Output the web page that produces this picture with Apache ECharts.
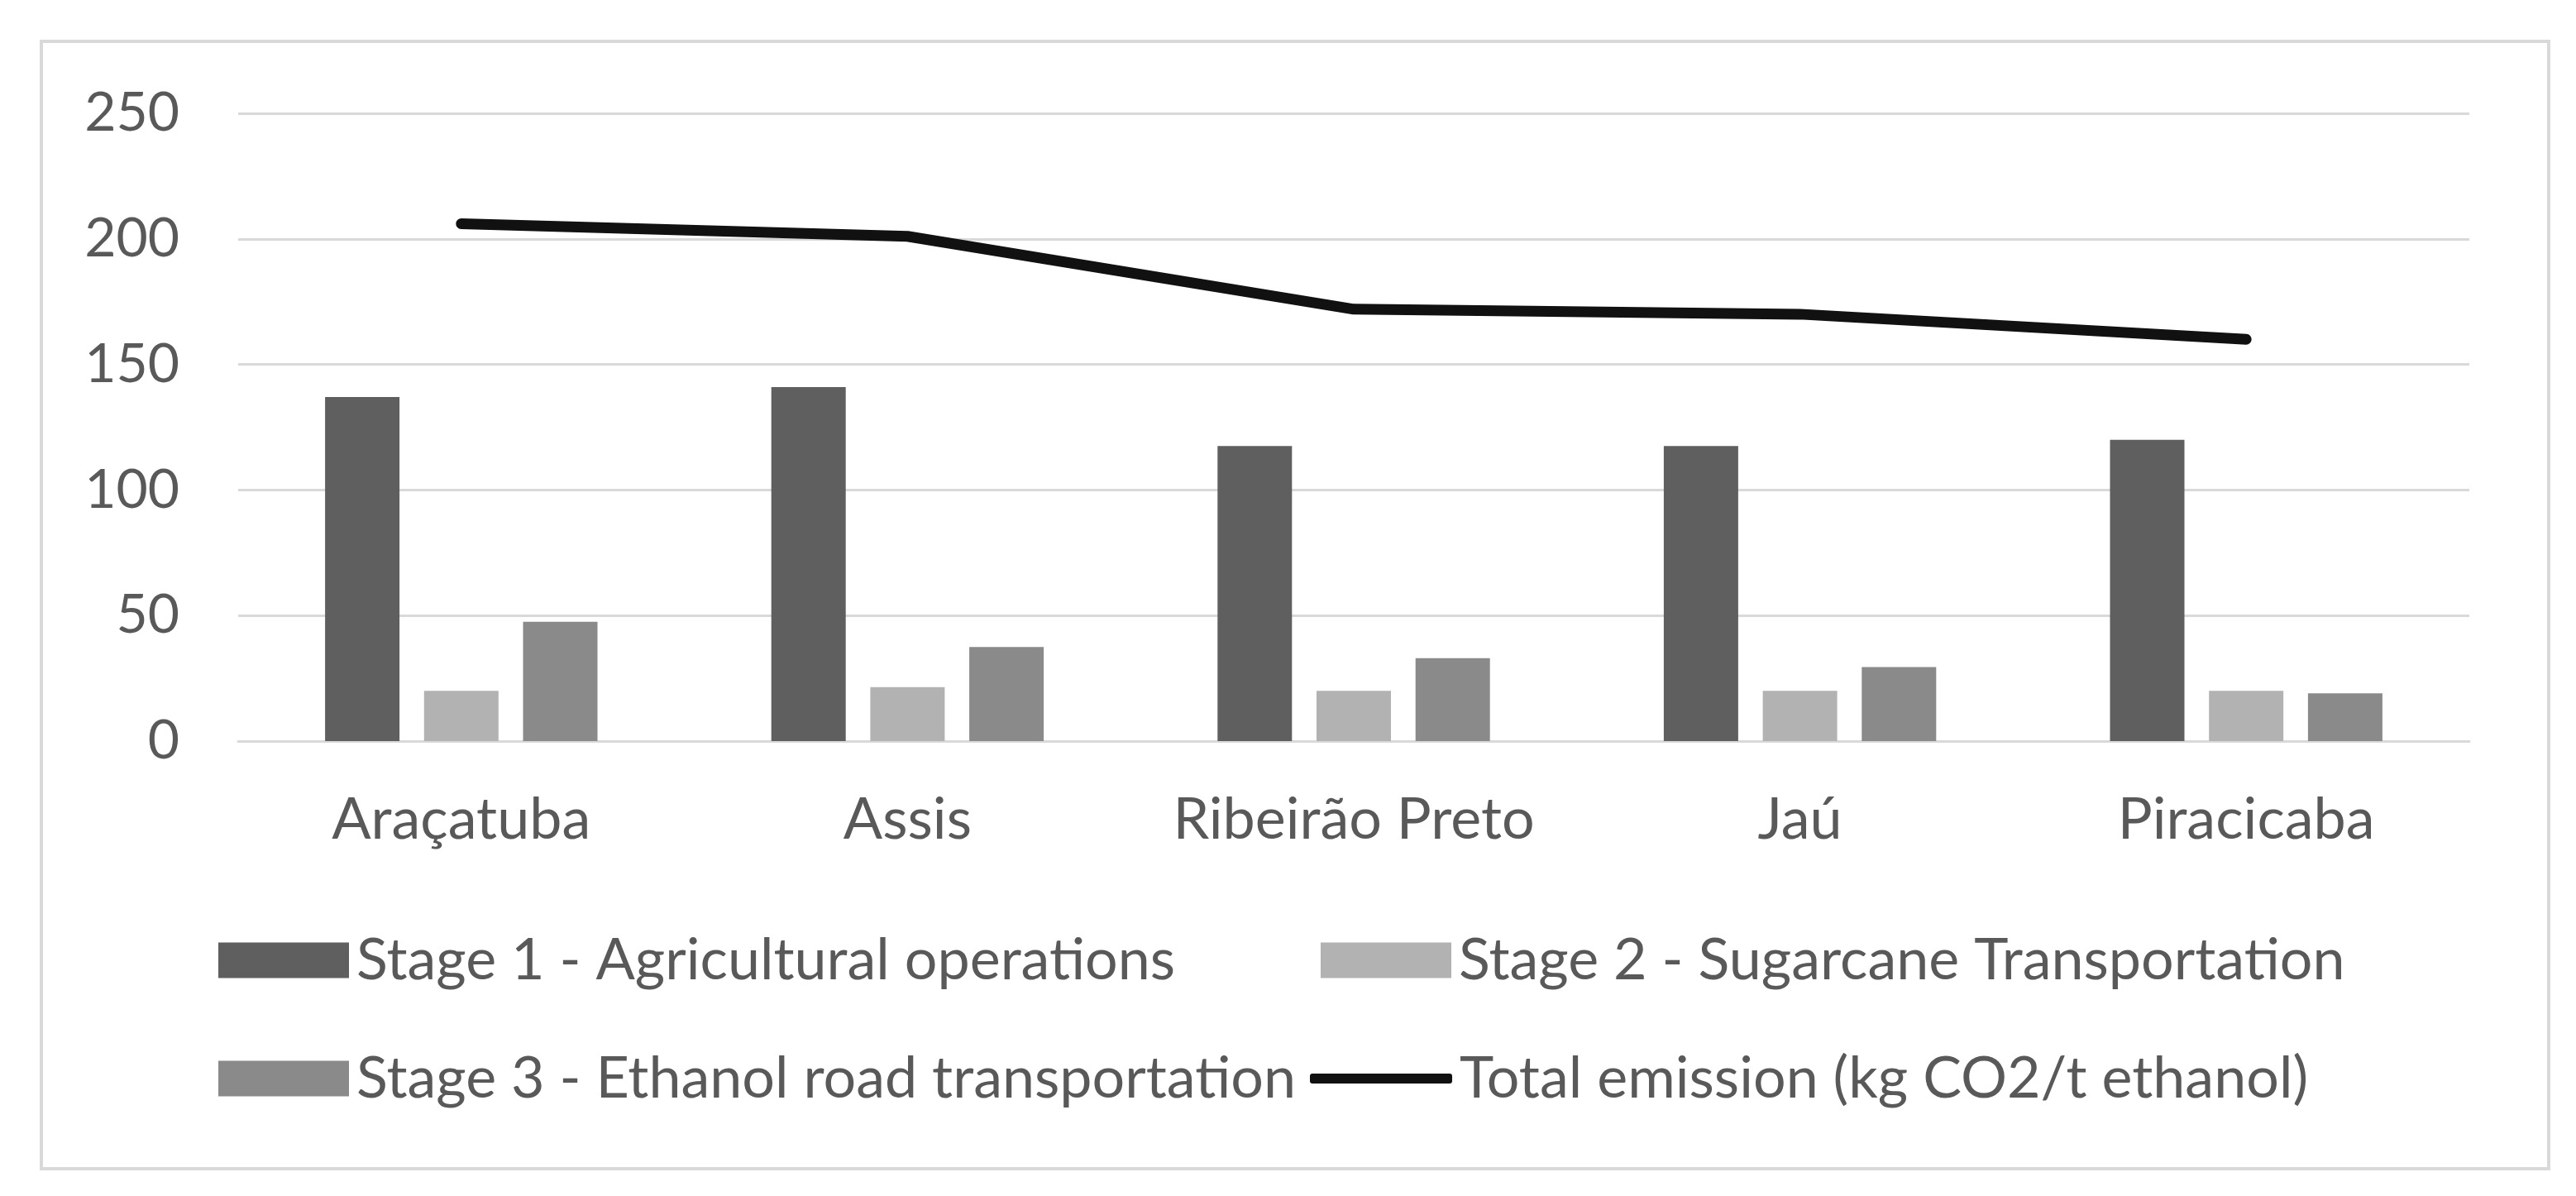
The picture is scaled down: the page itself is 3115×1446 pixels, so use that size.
<!DOCTYPE html>
<html>
<head>
<meta charset="utf-8">
<title>Emissions by region</title>
<script src="https://cdn.jsdelivr.net/npm/echarts@6/dist/echarts.min.js"></script>
<style>
  html, body { margin: 0; padding: 0; background: #fff; }
  #chart { width: 3115px; height: 1446px; }
</style>
</head>
<body>
<div id="chart"></div>
<script>
// categories and values
const regions = ['Araçatuba', 'Assis', 'Ribeirão Preto', 'Jaú', 'Piracicaba']
const stage1 = [137, 141, 117.5, 117.5, 120]
const stage2 = [20, 21.5, 20, 20, 20]
const stage3 = [47.5, 37.5, 33, 29.5, 19]
const totalEmission = [206, 201, 172, 170, 160]

const names = [
  'Stage 1 - Agricultural operations',
  'Stage 2 - Sugarcane Transportation',
  'Stage 3 - Ethanol road transportation',
  'Total emission (kg CO2/t ethanol)'
]

const textColor = '#595959'
const font = 'Lato'

const chart = echarts.init(document.getElementById('chart'))

// one legend per entry so each sits where it does in the picture
function legendItem(name, left, top, opts) {
  return Object.assign({
    data: [name],
    left: left,
    top: top,
    itemWidth: 158,
    itemHeight: 43,
    itemGap: 0,
    icon: 'rect',
    textStyle: { color: textColor, fontFamily: font, fontSize: 70, padding: [0, 0, 0, 4] }
  }, opts || {})
}

const option = {
  backgroundColor: '#fff',
  animation: false,
  graphic: [{
    type: 'rect',
    shape: { x: 50, y: 50, width: 3032, height: 1363 },
    style: { fill: 'none', stroke: '#d9d9d9', lineWidth: 4 }
  }],
  legend: [
    legendItem(names[0], 259, 1121),
    legendItem(names[1], 1592, 1121),
    legendItem(names[2], 259, 1264),
    legendItem(names[3], 1579, 1264, { itemWidth: 172, itemHeight: 12, icon: 'roundRect' })
  ],
  grid: { left: 288, right: 129, top: 137, bottom: 550 },
  xAxis: {
    type: 'category',
    data: regions,
    axisLine: { lineStyle: { color: '#d9d9d9', width: 3 } },
    axisTick: { show: false },
    axisLabel: {
      color: textColor, fontFamily: font, fontSize: 70, margin: 60,
      interval: 0, hideOverlap: false
    }
  },
  yAxis: {
    type: 'value',
    min: 0,
    max: 250,
    interval: 50,
    axisLine: { show: false },
    axisTick: { show: false },
    axisLabel: { color: textColor, fontFamily: font, fontSize: 66, margin: 71 },
    splitLine: { lineStyle: { color: '#d9d9d9', width: 3 } }
  },
  series: [
    {
      name: names[0], type: 'bar', data: stage1,
      barWidth: 90, barGap: '33%',
      itemStyle: { color: '#5f5f5f' }
    },
    {
      name: names[1], type: 'bar', data: stage2,
      barWidth: 90, barGap: '33%',
      itemStyle: { color: '#b2b2b2' }
    },
    {
      name: names[2], type: 'bar', data: stage3,
      barWidth: 90, barGap: '33%',
      itemStyle: { color: '#8a8a8a' }
    },
    {
      name: names[3], type: 'line', data: totalEmission,
      symbol: 'none',
      lineStyle: { color: '#111', width: 13, cap: 'round', join: 'round' },
      itemStyle: { color: '#111' }
    }
  ]
}

chart.setOption(option)
</script>
</body>
</html>
